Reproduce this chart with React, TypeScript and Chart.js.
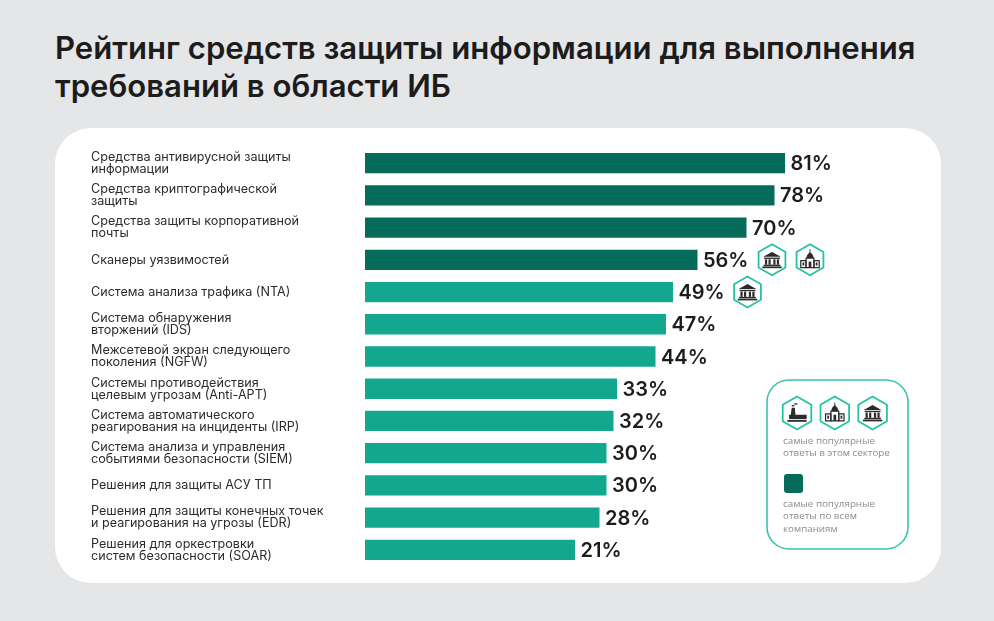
import { useEffect, useRef } from 'react'
import { Chart, registerables } from 'chart.js'

Chart.register(...registerables)

const titleLines = ['Рейтинг средств защиты информации для выполнения', 'требований в области ИБ']

const categories = [
  ['Средства антивирусной защиты', 'информации'],
  ['Средства криптографической', 'защиты'],
  ['Средства защиты корпоративной', 'почты'],
  'Сканеры уязвимостей',
  'Система анализа трафика (NTA)',
  ['Система обнаружения', 'вторжений (IDS)'],
  ['Межсетевой экран следующего', 'поколения (NGFW)'],
  ['Системы противодействия', 'целевым угрозам (Anti-APT)'],
  ['Система автоматического', 'реагирования на инциденты (IRP)'],
  ['Система анализа и управления', 'событиями безопасности (SIEM)'],
  'Решения для защиты АСУ ТП',
  ['Решения для защиты конечных точек', 'и реагирования на угрозы (EDR)'],
  ['Решения для оркестровки', 'систем безопасности (SOAR)'],
]
const values = [81, 78, 70, 56, 49, 47, 44, 33, 32, 30, 30, 28, 21]
const topAnswers = [true, true, true, true, false, false, false, false, false, false, false, false, false]
const sectorIcons: string[][] = [[], [], [], ['bank', 'church'], ['bank'], [], [], [], [], [], [], [], []]

// the bars in the picture don't start at zero, the axis is cut at about -39
const AXIS_MIN = -39
const AXIS_MAX = 109

const legendIcons = ['factory', 'church', 'bank']
const legendSectorText = ['самые популярные', 'ответы в этом секторе']
const legendAllText = ['самые популярные', 'ответы по всем', 'компаниям']

const DARK = '#066c59'
const LIGHT = '#12a78e'
const TEAL = '#25c2a6'
const INK = '#2b2b2b'

const drawBank = (ctx: CanvasRenderingContext2D) => {
  ctx.beginPath()
  ctx.moveTo(-10, -3.5)
  ctx.lineTo(0, -9)
  ctx.lineTo(10, -3.5)
  ctx.closePath()
  ctx.fill()
  ctx.fillRect(-9, -2.5, 18, 1.5)
  for (const x of [-8, -4, 1.5, 5.5]) ctx.fillRect(x, -0.5, 2.5, 6)
  ctx.fillRect(-9.5, 5.5, 19, 1.5)
  ctx.fillRect(-11, 7.5, 22, 2)
}

const drawChurch = (ctx: CanvasRenderingContext2D) => {
  ctx.fillRect(-0.5, -12, 1, 4)
  ctx.beginPath()
  ctx.moveTo(-4, -2)
  ctx.quadraticCurveTo(-4, -6, 0, -9)
  ctx.quadraticCurveTo(4, -6, 4, -2)
  ctx.closePath()
  ctx.fill()
  ctx.lineWidth = 1.4
  ctx.strokeRect(-10.5, 1, 6, 8)
  ctx.strokeRect(4.5, 1, 6, 8)
  ctx.strokeRect(-4.5, -2, 9, 11)
  ctx.fillRect(-1.5, 2, 3, 7)
  ctx.fillRect(-8.5, 3, 2, 3.5)
  ctx.fillRect(6.5, 3, 2, 3.5)
}

const drawFactory = (ctx: CanvasRenderingContext2D) => {
  ctx.beginPath()
  ctx.moveTo(-7.5, 5)
  ctx.lineTo(-6, -6)
  ctx.lineTo(-2.5, -6)
  ctx.lineTo(-1.5, 5)
  ctx.closePath()
  ctx.fill()
  ctx.fillRect(-6, -9, 3, 1.5)
  ctx.fillRect(-3, -11, 3.5, 1.5)
  ctx.fillRect(-9, 2, 20, 5)
  ctx.fillRect(-11, 8, 22, 2)
}

const iconPainters: Record<string, (ctx: CanvasRenderingContext2D) => void> = {
  bank: drawBank,
  church: drawChurch,
  factory: drawFactory,
}

const drawHexIcon = (ctx: CanvasRenderingContext2D, name: string, cx: number, cy: number, r: number) => {
  ctx.save()
  ctx.translate(cx, cy)
  ctx.beginPath()
  for (let i = 0; i < 6; i++) {
    const a = Math.PI / 3 * i - Math.PI / 2
    if (i === 0) ctx.moveTo(r * Math.cos(a), r * Math.sin(a))
    else ctx.lineTo(r * Math.cos(a), r * Math.sin(a))
  }
  ctx.closePath()
  ctx.fillStyle = '#ffffff'
  ctx.fill()
  ctx.strokeStyle = TEAL
  ctx.lineWidth = 1.8
  ctx.lineJoin = 'round'
  ctx.stroke()
  ctx.fillStyle = INK
  ctx.strokeStyle = INK
  ctx.scale(0.88, 0.88)
  iconPainters[name](ctx)
  ctx.restore()
}

// percent labels and the sector hexagons sitting right of each bar
const barExtras = {
  id: 'barExtras',
  afterDatasetsDraw(chart: Chart) {
    const { ctx } = chart
    const meta = chart.getDatasetMeta(0)
    ctx.save()
    meta.data.forEach((bar, i) => {
      ctx.font = '600 20px Inter'
      ctx.fillStyle = '#1c1c1c'
      ctx.textAlign = 'left'
      ctx.textBaseline = 'middle'
      ctx.fillText(values[i] + '%', bar.x + 5.5, bar.y + 1)
      sectorIcons[i].forEach((name, k) => {
        drawHexIcon(ctx, name, bar.x + 74.5 + k * 38, bar.y, 15.5)
      })
    })
    ctx.restore()
  },
}

const legendBox = {
  id: 'legendBox',
  afterDraw(chart: Chart) {
    const { ctx } = chart
    ctx.save()
    ctx.beginPath()
    ctx.roundRect(767, 380, 141, 169, 22)
    ctx.fillStyle = '#ffffff'
    ctx.fill()
    ctx.strokeStyle = '#3cc4ac'
    ctx.lineWidth = 1.6
    ctx.stroke()
    legendIcons.forEach((name, i) => drawHexIcon(ctx, name, 797 + i * 37.8, 413, 16.5))
    ctx.font = '9.8px "Open Sans"'
    ctx.fillStyle = '#8d8d8d'
    ctx.textAlign = 'left'
    ctx.textBaseline = 'middle'
    legendSectorText.forEach((t, i) => ctx.fillText(t, 783, 441 + i * 12.5))
    ctx.beginPath()
    ctx.roundRect(784, 474, 19, 19, 3)
    ctx.fillStyle = DARK
    ctx.fill()
    ctx.fillStyle = '#8d8d8d'
    legendAllText.forEach((t, i) => ctx.fillText(t, 783, 504 + i * 12.5))
    ctx.restore()
  },
}

export default function App() {
  const chartRef = useRef<HTMLCanvasElement>(null)

  useEffect(() => {
    if (!chartRef.current) return
    const chart = new Chart(chartRef.current, {
      type: 'bar',
      data: {
        labels: categories,
        datasets: [
          {
            data: values,
            base: AXIS_MIN,
            backgroundColor: topAnswers.map((top) => (top ? DARK : LIGHT)),
            barPercentage: 0.63,
            categoryPercentage: 1,
          },
        ],
      },
      options: {
        indexAxis: 'y',
        animation: false,
        responsive: false,
        layout: { padding: { left: 91, right: 111, top: 147, bottom: 55 } },
        scales: {
          x: { display: false, min: AXIS_MIN, max: AXIS_MAX },
          y: {
            grid: { display: false },
            border: { display: false },
            afterFit: (scale) => {
              scale.width = 274
            },
            ticks: {
              crossAlign: 'far',
              autoSkip: false,
              color: INK,
              font: { family: 'Inter', size: 12.6, lineHeight: 0.95 },
            },
          },
        },
        plugins: { legend: { display: false }, tooltip: { enabled: false } },
      },
      plugins: [barExtras, legendBox],
    })
    return () => chart.destroy()
  }, [])

  return (
    <div style={{ position: 'absolute', left: 0, top: 0, width: 994, height: 621, background: '#e5e6e8', overflow: 'hidden' }}>
      <div style={{ position: 'absolute', left: 55, top: 29, fontFamily: 'Inter', fontWeight: 600, fontSize: 31.1, lineHeight: '38px', color: '#1c1c1c', whiteSpace: 'nowrap' }}>
        {titleLines.map((t) => (
          <div key={t}>{t}</div>
        ))}
      </div>
      <div style={{ position: 'absolute', left: 55, top: 128, width: 886, height: 455, background: '#fff', borderRadius: 36 }} />
      <canvas ref={chartRef} width={994} height={621} style={{ position: 'absolute', left: 0, top: 0 }} />
    </div>
  )
}
